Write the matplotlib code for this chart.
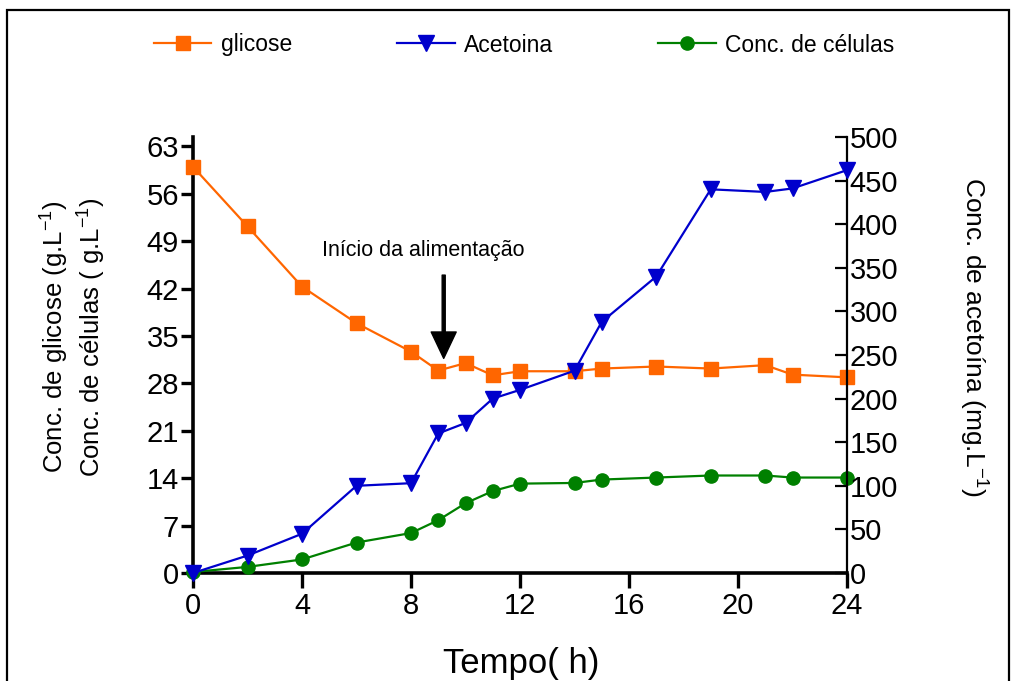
import matplotlib
matplotlib.use("Agg")
import matplotlib.pyplot as plt
from matplotlib.patches import Rectangle
from matplotlib.lines import Line2D

plt.rcParams['font.family'] = ['Liberation Sans', 'DejaVu Sans']
plt.rcParams['mathtext.fontset'] = 'custom'
plt.rcParams['mathtext.rm'] = 'Liberation Sans'
plt.rcParams['mathtext.it'] = 'Liberation Sans'

# data
tempo = [0, 2, 4, 6, 8, 9, 10, 11, 12, 14, 15, 17, 19, 21, 22, 24]
glicose = [60.0, 51.2, 42.3, 36.9, 32.7, 29.9, 31.0, 29.2, 29.8, 29.8, 30.2, 30.5, 30.2, 30.7, 29.3, 28.9]
acetoina = [0, 20, 45, 100, 103, 160, 172, 200, 210, 232, 288, 340, 440, 437, 441, 462]
celulas = [0.15, 0.9, 2.0, 4.5, 5.9, 7.8, 10.3, 12.1, 13.2, 13.3, 13.8, 14.1, 14.4, 14.4, 14.1, 14.1]

left_ticks = [0, 7, 14, 21, 28, 35, 42, 49, 56, 63]
right_ticks = [0, 50, 100, 150, 200, 250, 300, 350, 400, 450, 500]
x_ticks = [0, 4, 8, 12, 16, 20, 24]

c_gli = '#FF6600'
c_ace = '#0000CC'
c_cel = '#008000'

W, H = 1012, 681
fig = plt.figure(figsize=(W/100, H/100), dpi=100)
ax = fig.add_axes([193/W, 1 - 573/H, (847-193)/W, (573-137)/H])
ax2 = ax.twinx()

ax.plot(tempo, glicose, color=c_gli, marker='s', ms=10, lw=1.6, clip_on=False, zorder=3)
ax.plot(tempo, celulas, color=c_cel, marker='o', ms=9.5, lw=1.6, clip_on=False, zorder=3)
ax2.plot(tempo, acetoina, color=c_ace, marker='v', ms=12, lw=1.6, clip_on=False, zorder=3)

ax.set_xlim(0, 24)
ax.set_ylim(0, 64.4)
ax2.set_ylim(0, 500)

ax.set_xticks(x_ticks)
ax.set_yticks(left_ticks)
ax2.set_yticks(right_ticks)

for s in ['top', 'right']:
    ax.spines[s].set_visible(False)
for s in ['top', 'left', 'bottom']:
    ax2.spines[s].set_visible(False)
ax.spines['left'].set_linewidth(2.6)
ax.spines['bottom'].set_linewidth(2.6)
ax2.spines['right'].set_linewidth(1.6)

ax.tick_params(axis='y', direction='out', length=9, width=2.4, labelsize=21, pad=1)
ax.tick_params(axis='x', direction='out', length=11, width=2.4, labelsize=21, pad=3)
ax2.tick_params(axis='y', direction='in', length=9, width=1.6, labelsize=21, pad=2)

# axis titles placed where the reference has them
fig.text(521/W, 1 - 663/H, 'Tempo( h)', fontsize=25, ha='center', va='center')
fig.text(55/W, 1 - 337/H, 'Conc. de glicose (g.L$^{-1}$)', fontsize=18.5,
         rotation=90, ha='center', va='center')
fig.text(92/W, 1 - 337/H, 'Conc. de células ( g.L$^{-1}$)', fontsize=18.5,
         rotation=90, ha='center', va='center')
fig.text(973/W, 1 - 337/H, 'Conc. de acetoína (mg.L$^{-1}$)', fontsize=19,
         rotation=270, ha='center', va='center')

# feeding start annotation
ax.text(8.44, 47.6, 'Início da alimentação', fontsize=15.5, ha='center', va='center')
ax.annotate('', xy=(9.2, 31.7), xytext=(9.2, 44.0),
            arrowprops=dict(facecolor='black', edgecolor='black', width=2.2, headwidth=18, headlength=19))

handles = [
    Line2D([], [], color=c_gli, marker='s', ms=10, lw=1.6),
    Line2D([], [], color=c_ace, marker='v', ms=12, lw=1.6),
    Line2D([], [], color=c_cel, marker='o', ms=9.5, lw=1.6),
]
fig.legend(handles, ['glicose', 'Acetoina', 'Conc. de células'], loc='center',
           bbox_to_anchor=(524/W, 1 - 45/H), ncol=3, frameon=False, fontsize=16.5,
           handlelength=2.5, handletextpad=0.4, columnspacing=4.6)

fig.patches.append(Rectangle((7/W, -0.1), (1009-7)/W, 1.1 - 10/H,
                             transform=fig.transFigure, fill=False, edgecolor='black', lw=1.6))

fig.savefig('out.png', dpi=100)
